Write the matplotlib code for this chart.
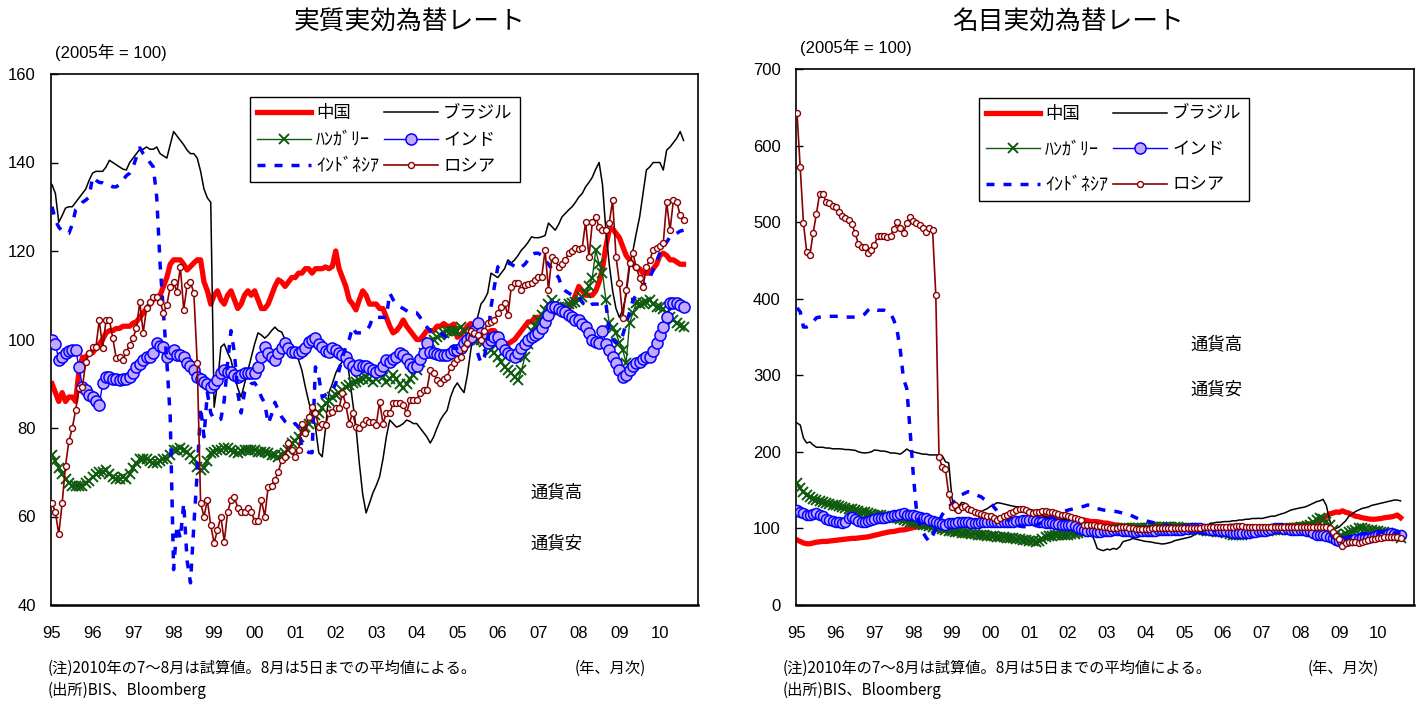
import numpy as np
import matplotlib
matplotlib.use("Agg")
import matplotlib.pyplot as plt
from matplotlib.lines import Line2D

plt.rcParams['font.family'] = ['Liberation Sans', 'Noto Sans CJK JP']
JP = ['Noto Sans CJK JP', 'Liberation Sans']

# ---------------- data (monthly, 1995-01 .. 2010-08) ----------------
year_labels = ['95', '96', '97', '98', '99', '00', '01', '02', '03', '04',
               '05', '06', '07', '08', '09', '10']
series_names = ['中国', 'ブラジル', 'ﾊﾝｶﾞﾘｰ', 'インド', 'ｲﾝﾄﾞﾈｼｱ', 'ロシア']

# Real effective exchange rate (2005 = 100)
china_real = [
    [90, 88, 86, 88, 86, 87, 87, 86, 93, 96, 96, 97],
    [97, 98, 99, 100, 101.5, 102, 102, 102.5, 102.5, 103, 103, 103],
    [103.7, 104, 105, 106, 107, 108, 109, 109.6, 110, 112, 114, 117],
    [118, 118, 118, 117, 115.7, 116.5, 117.3, 118, 118, 113, 111, 108],
    [110, 111, 109, 108, 110, 111, 109, 107, 108, 110, 111, 110],
    [111, 109, 107, 107, 108, 110, 112, 113.5, 113, 112, 113, 114],
    [114, 115, 115, 116, 116, 115, 116, 116, 116, 116.4, 116, 116.5],
    [120, 116, 114, 112, 109, 108, 106.7, 109, 111, 110, 108, 108],
    [108, 107, 107, 105, 103, 101.5, 102, 103, 104.4, 103, 102, 101],
    [100, 100, 101, 102, 102, 102, 103, 103, 103.6, 103, 103, 103.5],
    [100.5, 101, 102, 103, 103.6, 103, 102, 101, 101, 101.5, 102, 102],
    [101, 100, 99, 99, 99.5, 100, 101, 102, 103, 104, 104, 105],
    [105, 105, 105, 105.5, 106, 106, 106.5, 107, 107, 107, 108, 110],
    [112, 111, 110, 110, 110, 111, 113, 116, 121, 124.7, 125, 124],
    [123, 121, 119, 118, 117, 116, 116, 115, 115, 115, 116, 117],
    [119, 119.5, 119, 118, 118, 117.5, 117, 117],
]
brazil_real = [
    [135, 133, 126.5, 128, 129.7, 130, 130, 131, 132, 133, 134, 136],
    [137.6, 138, 138, 138, 139, 140.5, 140, 139.5, 139, 138.5, 138.3, 140],
    [141, 142, 143, 143, 143.5, 143, 143, 143.5, 142, 141.5, 141, 144],
    [147, 146, 145, 144, 142.8, 142, 142, 141, 138, 134, 132, 131],
    [84.7, 90, 98.3, 99, 97, 95.4, 92, 89, 87, 90, 93, 96],
    [99, 101.5, 101, 100.3, 101, 102, 102.8, 102, 101.7, 100, 99, 98.3],
    [97, 95.4, 93, 89.3, 86, 83, 80.2, 74.4, 73.5, 80, 88, 90],
    [92.4, 94, 95, 97, 92, 86, 80.2, 72, 65, 60.8, 63, 65.3],
    [67, 69, 73, 78, 81.8, 81, 80.2, 80.5, 81, 81.8, 81.5, 81],
    [81, 80, 79, 78, 76.6, 78, 80, 81.8, 83, 84, 87, 89],
    [90.2, 89, 88, 92, 97.6, 102, 105, 108, 109, 110.5, 115, 114.5],
    [114, 115, 116, 118, 117.3, 118, 119, 120.2, 121, 122, 123.2, 123],
    [123, 123.2, 123.5, 126.3, 125.5, 124.7, 126, 127.7, 128.5, 129.3, 130, 131],
    [132.2, 133, 134.5, 135.5, 136.7, 138.5, 140, 135, 124.7, 117, 111, 107],
    [105, 106.7, 110, 116.4, 120, 124, 127.7, 133, 138.3, 139, 140, 140],
    [140, 138.3, 142.8, 143.5, 144.5, 145.5, 147, 145],
]
hungary_real = [
    [74, 72.5, 71, 69.5, 68.5, 67.5, 67, 67, 66.8, 67, 67.5, 68],
    [69, 69.5, 70, 70, 70.5, 69.5, 69, 68.5, 68.5, 69, 68.5, 69.5],
    [71, 72, 73, 73, 73, 72.5, 72, 72, 72.5, 73, 73, 74],
    [75, 75, 75.5, 75, 74.5, 74, 73, 71.2, 70.5, 71, 72.5, 74.4],
    [74.5, 75, 75, 75.5, 75.5, 75, 74.5, 74.4, 74.7, 75, 75, 75],
    [75, 74.6, 74.6, 74.5, 74.4, 74, 73.8, 73.5, 73.8, 74.4, 75, 76.6],
    [77, 78, 79, 80.2, 81, 81.8, 83, 83.4, 84.5, 85.6, 86, 87],
    [87.5, 88, 88.5, 89.3, 89.8, 90.2, 90.5, 90.8, 91, 91.5, 91, 90.5],
    [91, 92, 91.5, 90.5, 91, 92, 91, 90, 89, 90, 91, 92],
    [93, 95, 97, 99, 99.5, 100, 100.6, 101, 101.5, 102, 102, 102],
    [102, 102.8, 102, 101, 100.5, 100, 99.9, 99.9, 99.5, 98.5, 97.6, 97],
    [96, 95, 93.8, 93, 92.4, 91.5, 90.8, 93, 96, 99, 102, 103],
    [104.4, 105.5, 106.7, 108, 109, 108, 107.4, 107.4, 107.4, 108, 108.2, 108.5],
    [109, 109.5, 110.5, 112, 114, 120.2, 117, 115, 109, 103.7, 102.5, 101.5],
    [99.2, 97.6, 94.7, 103.7, 106, 108.2, 108, 108.2, 108.5, 109, 108, 107.4],
    [107.4, 107, 106, 105, 104.5, 103.7, 103, 102.8],
]
india_real = [
    [99.8, 99, 95.4, 96, 97, 97.3, 97.6, 97.6, 93.8, 89.3, 88.6, 87.5],
    [87, 86, 85.2, 90.2, 91.5, 91.5, 91, 91, 90.8, 91, 91, 91.5],
    [92.4, 93.8, 94.5, 95.4, 96, 96, 97, 99.2, 98.5, 98.3, 96, 97],
    [97.6, 96.5, 96.5, 96, 94.7, 94, 93, 91.5, 91, 90.4, 90, 89.3],
    [90, 90.8, 92.4, 93, 92.6, 92.6, 92, 91.5, 92, 92.4, 92.4, 92.4],
    [92.4, 93.8, 96, 98.3, 97, 96, 95.4, 97, 98, 99.2, 98, 97.2],
    [97.2, 97, 97.5, 98, 99.5, 99.8, 100.3, 99, 98.3, 97.5, 97.2, 98],
    [97.6, 97, 96.5, 96, 94.7, 94, 93, 94.2, 94, 94, 93.5, 93],
    [92.6, 93, 94, 95.4, 95, 95.5, 96, 97, 96.5, 95.5, 94.5, 93.8],
    [94, 95.5, 97, 99.2, 97.2, 97, 96.8, 96.5, 96.5, 96.5, 97, 97.6],
    [97.6, 98, 99.2, 100, 100.6, 102, 103.7, 101.5, 100.5, 99.2, 100, 100.6],
    [100.6, 99, 97.6, 97, 96.5, 96, 97, 98, 99, 99.9, 100.5, 101],
    [101.5, 102.5, 104, 105.5, 107.4, 107.4, 107, 106.5, 106.2, 105.5, 105, 104.4],
    [104.4, 103.5, 102.8, 101.5, 99.9, 99.5, 99.2, 102, 99, 97.6, 96, 94.7],
    [93, 91.5, 92, 93, 94, 94.7, 95, 95.5, 96, 96, 97.5, 99.2],
    [101, 102.8, 105, 108.2, 108.2, 108.2, 107.8, 107.4],
]
indonesia_real = [
    [130, 127, 125.4, 124.5, 124, 124, 126, 129.3, 130, 131, 131.5, 132.2],
    [136.7, 136, 135.5, 135.4, 135, 135, 134.5, 134.5, 135, 136, 137, 137.6],
    [139, 141.2, 143.3, 142, 141, 140, 139, 132.2, 117, 106, 95, 82.5],
    [48, 58, 55, 63, 50, 45, 58, 70, 84.7, 78, 88, 83.4],
    [82, 81.8, 82, 86.3, 94.7, 102, 97, 88, 83.4, 88, 89, 90],
    [90.2, 89, 87, 85.6, 81, 83, 85.8, 84, 82.5, 81.5, 81, 80.5],
    [81, 80.2, 75.7, 75, 74.5, 74.4, 93.8, 91.5, 87, 87.5, 88, 88.6],
    [90, 93, 96, 98.3, 100, 102.8, 101.5, 101.5, 101.5, 102, 103, 105],
    [105, 105, 105, 105, 110.5, 109, 108, 107.4, 107, 106.5, 106, 106],
    [106, 105, 104, 102.8, 102, 101.5, 101.5, 101.5, 101, 100, 99, 98],
    [98, 98, 99, 99, 99, 98, 97, 94.7, 96, 100, 107.4, 112],
    [116.4, 117, 117, 117.3, 117, 116.5, 116, 116.4, 117, 118, 119, 119.5],
    [119.5, 119, 118, 117, 116, 115, 114, 111.8, 111, 110.5, 110, 109.6],
    [109.6, 108.5, 107.4, 107.5, 108, 108, 108, 108, 108.2, 102.2, 100, 99.2],
    [99.2, 101, 103.7, 106, 108.9, 110, 111, 112, 113.4, 114, 115.7, 117.5],
    [119.5, 121, 122, 123.2, 123.5, 124, 124.5, 124.7],
]
russia_real = [
    [63, 61, 56, 63, 71.5, 77, 80, 84, 89, 89.3, 95, 97],
    [98.3, 98.3, 104.4, 98, 104.4, 104.4, 100.3, 95.8, 96, 95.4, 97.2, 98.8],
    [100.3, 102.6, 108.5, 101.5, 107.1, 108.5, 109.6, 109.6, 108.5, 106, 107.8, 111.9],
    [113, 110.7, 116.4, 106.7, 112.3, 113, 110.5, 94.7, 63, 60, 63.7, 58],
    [54, 57, 60, 54.3, 61, 63.7, 64.4, 62, 61, 61, 62, 61],
    [59, 59, 63.7, 60, 66.7, 67, 68.3, 70, 72.8, 73.5, 76.6, 75],
    [73.5, 75, 81, 78.8, 82.5, 84.8, 83.4, 80.2, 81, 80.7, 83.4, 83.6],
    [84.5, 84.5, 88, 85.3, 81, 83.4, 80.2, 80, 81, 81.8, 81.4, 81.4],
    [80.7, 85.9, 81, 83.4, 83.4, 85.6, 85.6, 85.6, 85.2, 83.4, 86.3, 86.3],
    [86.3, 88, 88.6, 88.6, 93, 92.4, 90.8, 90.2, 91, 91.5, 93.8, 94.7],
    [95.5, 96, 98, 99.2, 102, 101.5, 101, 99.9, 102, 103.7, 104, 104.4],
    [106, 107.4, 108.2, 105.5, 111.9, 112.8, 112.8, 111.2, 112.3, 112.5, 112.8, 113.5],
    [114.1, 114.1, 120.2, 111.2, 118.7, 118, 116.4, 117, 118, 119.5, 120, 120.7],
    [120.5, 120.7, 126.6, 118.7, 126.6, 127.7, 125.4, 124.7, 124.7, 126.3, 131.5, 118.7],
    [112.8, 104.9, 111.2, 117.3, 119.5, 116.4, 113.9, 111.9, 116.4, 118, 120.2, 120.7],
    [121.2, 121.8, 131, 124.7, 131.5, 131, 128.1, 127],
]

# Nominal effective exchange rate (2005 = 100)
china_nom = [
    [85, 83, 81, 80, 80, 81, 82, 82.5, 83, 83, 83.5, 84],
    [84.5, 85, 85.5, 86, 86.5, 87, 87, 87.5, 88, 88.5, 89, 90],
    [91, 92, 93, 94, 95, 95.7, 96, 97, 98, 98, 99, 100],
    [101, 102, 103, 103, 103, 104, 105, 106, 106, 105, 104, 104],
    [104, 105, 106, 106, 106, 106, 107, 107, 107, 107, 107, 107],
    [107, 107, 108, 108, 108, 109, 109, 110, 110, 111, 111, 112],
    [112, 112, 113, 113, 113, 114, 114, 114, 114, 114, 115, 115],
    [115, 114, 113, 112, 111, 111, 110, 109, 109, 108.8, 108, 107],
    [107, 106, 105, 104.5, 104, 103, 102, 102, 101, 101, 100, 100],
    [100, 99.5, 99.5, 99, 99.5, 100, 100, 100, 99.5, 99.5, 99, 99],
    [99, 99, 99.5, 99.5, 100, 100, 100.5, 100.5, 100.5, 100.5, 101, 101],
    [101, 101, 101.5, 101, 100.5, 100.5, 100.5, 101, 101, 101, 101.5, 101.5],
    [102, 102, 102, 102.5, 102.5, 103, 103, 103, 103.5, 104, 104, 104.5],
    [105, 105, 105.5, 106, 107, 108, 110, 112, 116, 119, 120, 121.5],
    [121, 123, 121, 120, 118, 116, 115.3, 114, 113.2, 112.5, 112, 112],
    [112.5, 113, 114, 114.5, 115, 116, 117.5, 114],
]
brazil_nom = [
    [237.7, 235, 218, 211.6, 213, 209, 206, 206, 206, 205, 205, 204],
    [204, 204, 203.7, 203, 203, 202.4, 202, 200, 199, 198.5, 199, 200],
    [202.4, 202, 201, 201, 200, 198.5, 198.5, 198, 197, 200, 203.7, 201],
    [200, 199, 198, 197, 197, 196, 196, 196, 196, 195, 187, 185.5],
    [140, 122, 128, 134, 133, 130, 126, 123, 121, 122, 124, 126],
    [129, 131, 133.6, 133, 132, 131, 130, 129, 128.4, 128, 127, 126],
    [125, 124, 122, 120, 117, 115, 114, 113, 112, 111, 111, 112],
    [112, 111, 110, 108, 106, 104.5, 100, 94, 86, 74, 72, 71],
    [73, 72, 74, 72.7, 76, 82.7, 84, 85, 87, 86, 85, 84],
    [83, 82.7, 82, 81, 80.5, 79.7, 80, 81, 82, 84, 85, 86],
    [87, 88, 89, 91.4, 94, 97, 100, 103, 106.7, 107, 108, 108],
    [108.8, 109, 109, 110, 110, 111, 111, 112, 112, 113, 113, 113.2],
    [113, 114, 115, 116, 116, 117.5, 119, 120, 122, 124, 125, 126],
    [127, 127.6, 129, 131, 133, 135, 136, 138, 130, 111, 98, 100],
    [102, 106, 110, 116, 119, 122, 124, 126, 127, 128, 130, 131],
    [132, 133, 134, 135, 136, 137, 137, 136],
]
hungary_nom = [
    [159, 153, 148, 144, 141, 139, 137, 135.5, 134, 133, 132, 131],
    [130, 129, 128, 127, 126, 125, 124, 123, 122, 121, 120, 119],
    [118, 117.5, 117, 116, 115, 114, 113.6, 113, 112, 111, 110, 109],
    [108, 107, 106, 105, 104, 103, 102, 101, 100, 99, 98, 97],
    [96, 95.5, 95, 94.5, 94, 93.6, 93, 92.5, 92, 91.4, 91, 90.5],
    [90, 89.5, 89.2, 89, 88.5, 88, 87.5, 87, 86.5, 86, 85.5, 85],
    [84, 83, 82.7, 84, 86, 89, 90, 90.5, 91, 91.4, 91.5, 92],
    [92, 92.5, 93, 94, 95, 95.7, 96, 96.5, 97, 97.5, 98, 98],
    [98, 98.5, 99, 99, 99.5, 100, 100, 100, 100, 100.5, 101, 101],
    [101, 101, 101.5, 102, 102, 102, 102, 102, 102, 102, 102, 101],
    [101, 100, 100, 99, 98.5, 98, 97.5, 97, 96.5, 96, 95.7, 95.5],
    [95, 94, 93, 92, 91.4, 91.4, 92, 93, 94, 95, 95.7, 96],
    [96.5, 97, 97, 97.5, 98, 98, 98.5, 99, 99.5, 100, 100.5, 101],
    [101.5, 102, 103, 104, 108, 111, 113.6, 112, 108, 104.5, 98, 93],
    [89, 90, 93, 95.7, 97, 98.5, 100, 100, 99, 98, 98, 97],
    [96, 95.7, 95, 94, 93, 91.4, 90, 88],
]
india_nom = [
    [124, 121.5, 120, 118, 117.5, 119, 120, 118, 116, 112, 111, 110],
    [108, 108, 107, 109, 113, 115, 112, 110, 108, 109, 110, 111],
    [112, 113, 113.6, 114, 115, 116, 117.5, 118, 119, 119.7, 118, 117.5],
    [117, 116, 115, 114, 113, 111, 110, 108, 107, 106, 105, 106.7],
    [107, 107, 108, 108.5, 108.8, 108, 107, 106.7, 107, 108, 108.5, 108.8],
    [109, 109, 108.8, 108.5, 108.5, 108.8, 109, 109, 109.5, 110, 110.5, 111],
    [111, 110.5, 110, 109, 108, 107, 106.7, 106.5, 106, 105.5, 105, 104.5],
    [104.5, 104, 103, 101, 99.5, 98, 97, 96.5, 96, 95.7, 95.7, 96],
    [96.5, 97, 97.5, 98, 97.5, 97, 96.5, 96, 95.7, 95.7, 96, 96],
    [96, 96.5, 97, 97, 97.5, 97.5, 98, 98, 98, 98, 98, 98.5],
    [99, 99.5, 100, 100, 100, 100, 99.5, 99, 98.5, 98, 98, 97],
    [96.5, 96, 95, 94.5, 94, 93.6, 93.6, 94, 94.5, 95, 95.7, 96],
    [96.5, 97, 98, 99, 100, 100, 100, 99.5, 99, 98.5, 98, 98],
    [98, 97.5, 97, 96, 94, 92, 91, 91.4, 90, 89, 87, 85],
    [83, 83, 84, 85, 85, 86, 86, 87, 87.5, 88, 89, 90],
    [91, 91.5, 92, 93, 93.6, 93, 92, 91],
]
indonesia_nom = [
    [388, 383, 363, 363, 365, 370, 375, 376, 377, 377, 377, 377],
    [377, 377, 377, 376, 376, 376, 376, 377, 378, 380, 385, 388],
    [386, 385, 385, 385, 383, 381, 372, 359, 333, 295, 283, 230],
    [172, 124, 105, 95, 88, 82.7, 90, 100, 110, 118, 124, 128],
    [132, 136, 140, 144, 146, 148, 147, 145, 143, 141.4, 138, 135],
    [132.8, 128, 123, 119.7, 116, 112, 109, 106, 104, 103, 102.3, 102.3],
    [102.3, 103, 104, 106, 108, 111, 113, 115, 117, 119.7, 121, 122.5],
    [124, 125, 126, 127, 128, 129, 130.6, 130, 128, 126, 125, 124],
    [123.5, 123, 122.5, 122, 121, 120, 119.7, 118, 116, 114, 112, 111],
    [110, 109, 108, 107, 106, 105, 104.5, 104, 103, 102, 101, 100],
    [100, 99, 98, 97, 96, 95, 94, 93, 94, 97, 99, 100],
    [101, 103, 104, 104, 104, 103, 103, 103, 103, 103, 103, 103],
    [103, 103, 102, 102, 102, 101, 101, 100, 100, 100, 99, 99],
    [99, 99, 99, 99, 99, 99, 99, 98, 96, 94, 88, 87],
    [86, 85, 86, 88, 90, 91, 92, 93, 93, 94, 94, 94],
    [94, 95, 95, 95, 95, 94, 94, 94],
]
russia_nom = [
    [642.6, 572, 499, 461, 457, 486, 510.6, 537, 537, 526.6, 525, 521],
    [520, 513, 508, 505, 503, 497.6, 486, 471.5, 467.6, 467, 459.7, 463.6],
    [470, 482, 482, 482, 480.6, 482, 491, 500, 492, 486, 499, 507],
    [501.5, 499, 496, 492, 487, 492, 490, 405, 193, 180, 177, 145],
    [127.6, 130.6, 124, 127.6, 129, 126, 124, 122, 119.7, 118.5, 117.5, 116.5],
    [116, 113, 111, 113.6, 116, 118, 120, 121.9, 124, 126, 125, 124],
    [122, 119.7, 121, 122, 123, 122.5, 122, 121, 119.7, 119, 118, 117.5],
    [116.5, 115.3, 114, 112, 111, 104.5, 104.5, 104.5, 104, 103.5, 103, 102.3],
    [101.5, 100.5, 100, 101, 101.5, 102.3, 101.5, 100.5, 100, 99.5, 99, 98.8],
    [99, 99.5, 100, 100.5, 101, 101, 101, 100.5, 100, 100.5, 101, 101],
    [100.5, 100, 100, 100.5, 101, 101, 101.5, 101.5, 101.5, 102, 102, 102],
    [102, 102.3, 102.5, 102.5, 103, 103, 103, 102.5, 102.3, 102.3, 102.5, 102.5],
    [102.3, 102.3, 102.5, 102.5, 102.5, 102.3, 102.3, 102.3, 102.5, 102.5, 102.3, 102.3],
    [102.3, 102.3, 102.3, 102.3, 102, 102, 102, 101.5, 101.4, 101, 95.7, 90],
    [85.8, 77, 80.6, 82, 82.7, 82, 81, 82, 84, 85, 86, 86.5],
    [87, 88, 88.8, 89.2, 89.2, 89.2, 88.5, 87.9],
]


def flat(rows):
    vals = np.array([v for r in rows for v in r], dtype=float)
    assert len(vals) == 188, len(vals)
    return vals


t = 1995 + np.arange(188) / 12.0

# ---------------- styles ----------------
RED = '#ff0000'
GREEN = '#0f5a0f'
BLUE = '#0000ff'
LAV = '#c4a8ff'
DRED = '#8b0000'


def draw(ax, data, ms_india, ms_russia):
    cn, br, hu, ind, ido, ru = [flat(d) for d in data]
    ax.plot(t, cn, color=RED, lw=3.8, solid_joinstyle='round', zorder=2)
    ax.plot(t, br, color='black', lw=1.1, zorder=3)
    ax.plot(t, hu, color=GREEN, lw=1.0, marker='x', ms=6.5, mew=1.4, zorder=4)
    ax.plot(t, ind, color=BLUE, lw=1.0, marker='o', ms=ms_india, mfc=LAV,
            mec=BLUE, mew=1.1, zorder=5)
    ax.plot(t, ido, color=BLUE, lw=2.5, ls=(0, (2.3, 2.6)), zorder=6)
    ax.plot(t, ru, color=DRED, lw=1.2, marker='o', ms=ms_russia, mfc='white',
            mec=DRED, mew=1.0, zorder=7)


def style(ax, ylim, step, xlim):
    ax.set_xlim(*xlim)
    ax.set_ylim(*ylim)
    ax.set_yticks(np.arange(ylim[0], ylim[1] + 1, step))
    ax.set_xticks(np.arange(1995, 2011))
    ax.set_xticklabels(year_labels)
    ax.tick_params(axis='y', direction='in', length=5, width=1, pad=11,
                   labelsize=12, left=True, right=False)
    ax.tick_params(axis='x', length=0, pad=15, labelsize=12)
    for s in ax.spines.values():
        s.set_linewidth(1.2)
        s.set_color('black')
    ax.spines['bottom'].set_linewidth(1.8)
    ax.set_facecolor('white')


def legend(ax, anchor, lspace, ms_india, ms_russia):
    h = [
        Line2D([], [], color=RED, lw=3.8),
        Line2D([], [], color=GREEN, lw=1.0, marker='x', ms=7, mew=1.4),
        Line2D([], [], color=BLUE, lw=2.5, ls=(0, (2.3, 2.6))),
        Line2D([], [], color='black', lw=1.1),
        Line2D([], [], color=BLUE, lw=1.0, marker='o', ms=ms_india, mfc=LAV,
               mec=BLUE, mew=1.1),
        Line2D([], [], color=DRED, lw=1.2, marker='o', ms=ms_russia,
               mfc='white', mec=DRED, mew=1.0),
    ]
    labels = [series_names[0], series_names[2], series_names[4],
              series_names[1], series_names[3], series_names[5]]
    lg = ax.legend(h, labels, ncol=2, loc='upper left', bbox_to_anchor=anchor,
                   borderaxespad=0, frameon=True, fancybox=False,
                   edgecolor='black', framealpha=1, numpoints=1,
                   handlelength=3.1, handletextpad=0.3, columnspacing=0.3,
                   labelspacing=lspace, borderpad=0.4,
                   prop={'family': JP, 'size': 12.5})
    for txt in lg.get_texts():
        if txt.get_text() in (series_names[2], series_names[4]):
            txt.set_fontsize(13)
    lg.get_frame().set_linewidth(1.0)
    lg.set_zorder(20)


fig = plt.figure(figsize=(14.24, 7.02), dpi=100)
fig.patch.set_facecolor('white')

axL = fig.add_axes([51 / 1424, 1 - 605 / 702, (698 - 51) / 1424, (605 - 74) / 702])
axR = fig.add_axes([796 / 1424, 1 - 605 / 702, (1414 - 796) / 1424, (605 - 69) / 702])

draw(axL, [china_real, brazil_real, hungary_real, india_real, indonesia_real,
           russia_real], 8.0, 4.3)
draw(axR, [china_nom, brazil_nom, hungary_nom, india_nom, indonesia_nom,
           russia_nom], 7.2, 4.3)

style(axL, (40, 160), 20, (1994.975, 2010.94))
style(axR, (0, 700), 100, (1994.974, 2010.93))

legend(axL, (0.3076, 0.9567), 0.5, 8.0, 4.3)
legend(axR, (0.296, 0.946), 1.0, 8.0, 4.3)

# annotations inside plots
axL.text(2007.45, 65.5, '通貨高', family=JP, fontsize=12.5, ha='center', va='center')
axL.text(2007.45, 54.0, '通貨安', family=JP, fontsize=12.5, ha='center', va='center')
axR.text(2005.82, 341, '通貨高', family=JP, fontsize=12.5, ha='center', va='center')
axR.text(2005.82, 282, '通貨安', family=JP, fontsize=12.5, ha='center', va='center')

# titles and units
fig.text(410 / 1424, 1 - 22 / 702, '実質実効為替レート', family=JP, fontsize=18.5,
         ha='center', va='center')
fig.text(1068 / 1424, 1 - 22 / 702, '名目実効為替レート', family=JP, fontsize=18.5,
         ha='center', va='center')
fig.text(55 / 1424, 1 - 52 / 702, '(2005年 = 100)', fontsize=12, ha='left', va='center')
fig.text(800 / 1424, 1 - 47 / 702, '(2005年 = 100)', fontsize=12, ha='left', va='center')

# footnotes
note = '(注)2010年の7～8月は試算値。8月は5日までの平均値による。'
src = '(出所)BIS、Bloomberg'
for x0, xu in [(48, 610), (783, 1343)]:
    fig.text(x0 / 1424, 1 - 668 / 702, note, family=JP, fontsize=11,
             ha='left', va='center')
    fig.text(xu / 1424, 1 - 668 / 702, '(年、月次)', family=JP, fontsize=11,
             ha='center', va='center')
    fig.text(x0 / 1424, 1 - 690 / 702, src, family=JP, fontsize=11,
             ha='left', va='center')

fig.savefig('out.png', dpi=100, facecolor='white')
